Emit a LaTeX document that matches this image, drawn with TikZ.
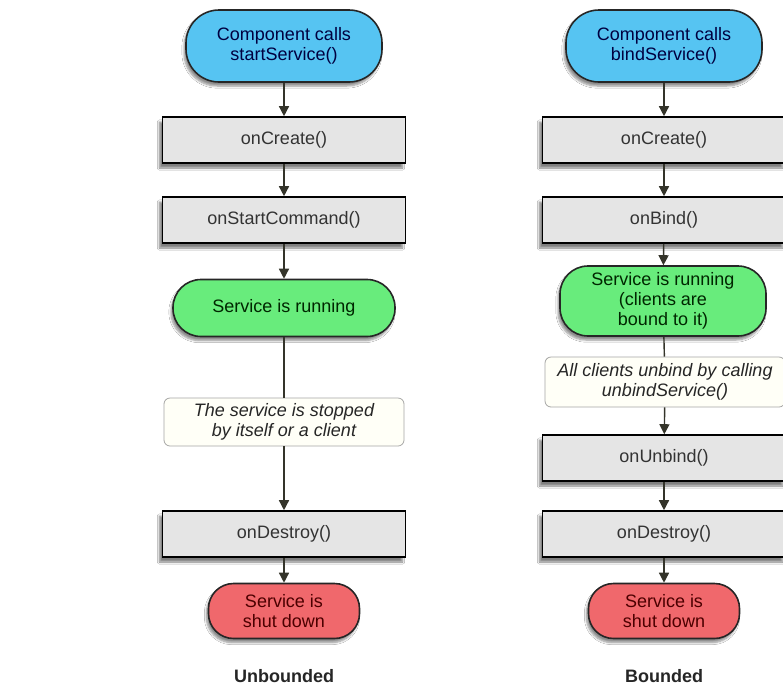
\documentclass[tikz,border=0pt]{standalone}
\usepackage{fontspec}
\setmainfont{Liberation Sans}
\usetikzlibrary{arrows.meta, shadows.blur}

\definecolor{startblue}{RGB}{86,196,242}
\definecolor{rungreen}{RGB}{104,236,124}
\definecolor{stopred}{RGB}{240,104,108}
\definecolor{callgray}{RGB}{229,229,229}
\definecolor{linkgray}{RGB}{52,52,42}

\newcommand{\boxfont}{\fontsize{18}{20}\selectfont}

\tikzset{
  terminal/.style={
    rectangle, draw=black!85, line width=1.6pt, align=center,
    blur shadow={shadow xshift=-2pt, shadow yshift=-4pt, shadow opacity=45, shadow blur steps=6}
  },
  start/.style={
    terminal, fill=startblue, text=blue!25!black,
    minimum width=196pt, minimum height=72pt, rounded corners=33pt
  },
  running/.style={
    terminal, fill=rungreen, text=green!15!black, rounded corners=28pt
  },
  shutdown/.style={
    terminal, fill=stopred, text=red!30!black,
    minimum width=151pt, minimum height=55pt, rounded corners=25pt
  },
  callback/.style={
    rectangle, draw=black, line width=1.6pt, fill=callgray, text=black!80,
    minimum width=243pt, minimum height=46pt, align=center,
    blur shadow={shadow xshift=-3pt, shadow yshift=-5pt, shadow opacity=50, shadow blur steps=6}
  },
  note/.style={
    rectangle, rounded corners=6pt, draw=black!35, line width=0.8pt,
    fill=white!97!yellow, text=black!85, font=\boxfont\itshape,
    minimum width=240pt, align=center
  },
  caption/.style={font=\boxfont\bfseries, text=black!85},
  arrow/.style={
    -{Triangle[width=10pt,length=10pt]}, line width=1.4pt, color=linkgray
  },
  link/.style={line width=1.4pt, color=linkgray}
}

\begin{document}
\begin{tikzpicture}[x=1pt, y=-1pt, every node/.style={font=\boxfont}]
  \useasboundingbox[fill=white] (0,0) rectangle (783,686);

  % Unbounded service
  \node[start] (startU) at (284,46) {Component calls\\startService()};
  \node[callback] (createU) at (284,140) {onCreate()};
  \node[callback] (commandU) at (284,220) {onStartCommand()};
  \node[running, minimum width=222pt, minimum height=57pt] (runU) at (284,308) {Service is running};
  \node[note, minimum height=48pt] (stopU) at (284,422) {The service is stopped\\by itself or a client};
  \node[callback] (destroyU) at (284,534) {onDestroy()};
  \node[shutdown] (downU) at (284,611) {Service is\\shut down};
  \node[caption] (labelU) at (284,676) {Unbounded};

  \draw[arrow] (startU) -- (createU);
  \draw[arrow] (createU) -- (commandU);
  \draw[arrow] (commandU) -- (runU);
  \draw[link] (runU) -- (stopU);
  \draw[arrow] (stopU) -- (destroyU);
  \draw[arrow] (destroyU) -- (downU);

  % Bounded service
  \node[start] (startB) at (664,46) {Component calls\\bindService()};
  \node[callback] (createB) at (664,140) {onCreate()};
  \node[callback] (bindB) at (664,220) {onBind()};
  \node[running, minimum width=206pt, minimum height=70pt] (runB) at (663,301) {Service is running\\(clients are\\bound to it)};
  \node[note, minimum height=50pt] (unbindAll) at (665,382) {All clients unbind by calling\\unbindService()};
  \node[callback] (unbindB) at (664,458) {onUnbind()};
  \node[callback] (destroyB) at (664,534) {onDestroy()};
  \node[shutdown] (downB) at (664,611) {Service is\\shut down};
  \node[caption] (labelB) at (664,676) {Bounded};

  \draw[arrow] (startB) -- (createB);
  \draw[arrow] (createB) -- (bindB);
  \draw[arrow] (bindB) -- (runB);
  \draw[link] (runB) -- (unbindAll);
  \draw[arrow] (unbindAll) -- (unbindB);
  \draw[arrow] (unbindB) -- (destroyB);
  \draw[arrow] (destroyB) -- (downB);
\end{tikzpicture}
\end{document}
